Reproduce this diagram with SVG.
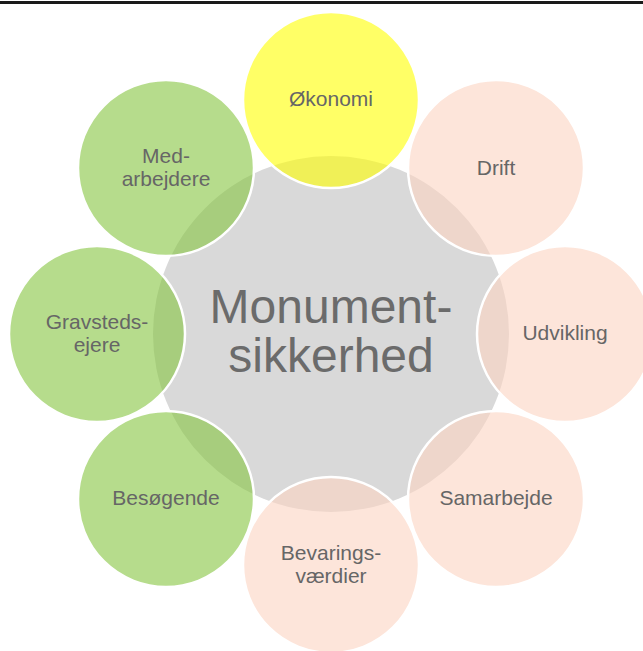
<svg xmlns="http://www.w3.org/2000/svg" width="643" height="651" viewBox="0 0 643 651">
<style>
.bub{stroke:#ffffff;stroke-width:2.5;fill-opacity:0.6}
.y{fill:#ffff00}
.g{fill:#85c43f}
.p{fill:#fcd3c2}
.lbl{font-family:"Liberation Sans",Arial,sans-serif;font-size:21px;fill:#666666;text-anchor:middle}
.big{font-family:"Liberation Sans",Arial,sans-serif;font-size:48px;fill:#6b6b6b;text-anchor:middle}
</style>
<rect x="0" y="0" width="643" height="651" fill="#ffffff"/>
<rect x="0" y="1" width="643" height="3" fill="#1a1a1a"/>
<g id="center-shape">
<circle cx="331" cy="334" r="178" fill="#d9d9d9"/>
</g>
<g id="okonomi">
<circle class="bub y" cx="331" cy="100" r="88"/>
<text class="lbl" x="331" y="106">Økonomi</text>
</g>
<g id="drift">
<circle class="bub p" cx="496" cy="168" r="88"/>
<text class="lbl" x="496" y="175">Drift</text>
</g>
<g id="udvikling">
<circle class="bub p" cx="565" cy="334" r="88"/>
<text class="lbl" x="565" y="340">Udvikling</text>
</g>
<g id="samarbejde">
<circle class="bub p" cx="496" cy="499" r="88"/>
<text class="lbl" x="496" y="505">Samarbejde</text>
</g>
<g id="bevaringsvaerdier">
<circle class="bub p" cx="331" cy="565" r="88"/>
<text class="lbl" x="331" y="560">Bevarings-</text>
<text class="lbl" x="331" y="583">værdier</text>
</g>
<g id="besogende">
<circle class="bub g" cx="166" cy="499" r="88"/>
<text class="lbl" x="166" y="505">Besøgende</text>
</g>
<g id="gravstedsejere">
<circle class="bub g" cx="97" cy="334" r="88"/>
<text class="lbl" x="97" y="329">Gravsteds-</text>
<text class="lbl" x="97" y="352">ejere</text>
</g>
<g id="medarbejdere">
<circle class="bub g" cx="166" cy="168" r="88"/>
<text class="lbl" x="166" y="163">Med-</text>
<text class="lbl" x="166" y="186">arbejdere</text>
</g>
<g id="center-label">
<text class="big" x="331" y="323">Monument-</text>
<text class="big" x="331" y="372">sikkerhed</text>
</g>
</svg>
